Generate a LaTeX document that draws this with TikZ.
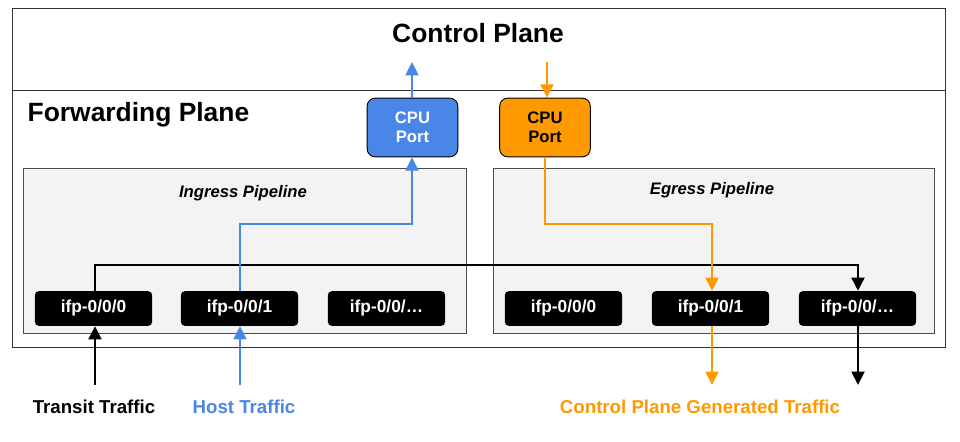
\documentclass[tikz,border=0pt]{standalone}
\usepackage{fontspec}
\setmainfont{Liberation Sans}
\usetikzlibrary{arrows.meta}
\definecolor{hblue}{HTML}{4A86E8}
\definecolor{horange}{HTML}{FF9900}
\definecolor{pgrey}{HTML}{F3F3F3}
\begin{document}
\begin{tikzpicture}[x=0.75pt,y=-0.75pt,
  plane/.style={draw=black!80,line width=0.7pt},
  pipe/.style={draw=black!70,fill=pgrey,line width=0.7pt},
  ifp/.style={fill=black,rounded corners=3pt,minimum width=88pt,minimum height=26pt,text=white,font=\bfseries\fontsize{13}{15}\selectfont,inner sep=0pt},
  cpu/.style={draw=black,line width=0.7pt,rounded corners=6pt,minimum width=68pt,minimum height=44pt,align=center,font=\bfseries\fontsize{12.5}{14.5}\selectfont,inner sep=0pt},
  flow/.style={line width=2.2pt,-{Triangle[length=10pt,width=9.5pt]}},
  lbl/.style={font=\bfseries\fontsize{14}{16}\selectfont}]
\useasboundingbox (0,0) rectangle (960,442);
\fill[white] (0,0) rectangle (960,442);
\draw[plane] (12,8) rectangle (945,90);
\draw[plane] (12,90) rectangle (945,347);
\node[font=\bfseries\fontsize{19.8}{23}\selectfont] (cp) at (478,33) {Control Plane};
\node[font=\bfseries\fontsize{19.8}{23}\selectfont,anchor=west] (fp) at (23,115) {Forwarding Plane};
\draw[pipe] (23,168) rectangle (466,333);
\draw[pipe] (493,168) rectangle (934,333);
\node[font=\bfseries\itshape\fontsize{12.5}{14}\selectfont] (ip) at (243,193) {Ingress Pipeline};
\node[font=\bfseries\itshape\fontsize{12.5}{14}\selectfont] (ep) at (712,190) {Egress Pipeline};
\node[cpu,fill=hblue,text=white] (c1) at (412.5,127.5) {CPU\\Port};
\node[cpu,fill=horange,text=black] (c2) at (545,127.5) {CPU\\Port};
\node[ifp] (i0) at (93.5,308.5) {ifp-0/0/0};
\node[ifp] (i1) at (239.5,308.5) {ifp-0/0/1};
\node[ifp] (i2) at (386.5,308.5) {ifp-0/0/…};
\node[ifp] (e0) at (563.5,308.5) {ifp-0/0/0};
\node[ifp] (e1) at (710.5,308.5) {ifp-0/0/1};
\node[ifp] (e2) at (857.5,308.5) {ifp-0/0/…};
\coordinate (tsrc) at (95,385);
\coordinate (hsrc) at (240,385);
\coordinate (tdst) at (858,385);
\coordinate (odst) at (712,385);
\coordinate (cup) at (412,62);
\coordinate (cdn) at (547,62);
\node[lbl] (tl) at (94,407) {Transit Traffic};
\node[lbl,text=hblue] (hl) at (244,407) {Host Traffic};
\node[lbl,text=horange] (ol) at (700,407) {Control Plane Generated Traffic};
\draw[flow] (tsrc) -- (i0.south -| tsrc);
\draw[flow] (i0.north -| tsrc) |- (858,265) -- (e2.north -| tdst);
\draw[flow] (e2.south -| tdst) -- (tdst);
\draw[flow,hblue] (hsrc) -- (i1.south -| hsrc);
\draw[flow,hblue] (i1.north -| hsrc) |- (412,224) -- (c1.south -| cup);
\draw[flow,hblue] (c1.north -| cup) -- (cup);
\draw[flow,horange] (cdn) -- (c2.north -| cdn);
\draw[flow,horange] (c2.south) |- (712,224) -- (e1.north -| odst);
\draw[flow,horange] (e1.south -| odst) -- (odst);
\end{tikzpicture}
\end{document}
